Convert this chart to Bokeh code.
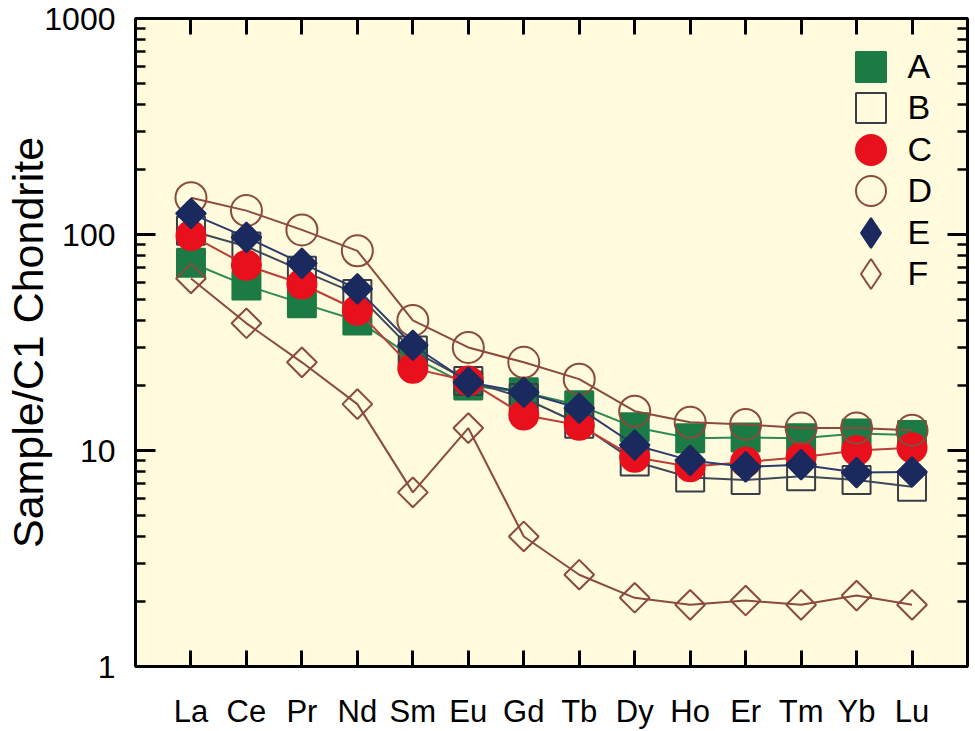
import math
from bokeh.plotting import figure
from bokeh.models import (FixedTicker, LinearAxis, LogAxis, NumeralTickFormatter,
                          Legend, LegendItem, ColumnDataSource, Range1d)
from bokeh.embed import file_html
from bokeh.resources import INLINE

# ---------------- data ----------------
elements = ["La", "Ce", "Pr", "Nd", "Sm", "Eu", "Gd", "Tb", "Dy", "Ho", "Er", "Tm", "Yb", "Lu"]
series_names = ["A", "B", "C", "D", "E", "F"]
values_A = [74, 58, 48, 40, 27, 20, 18.6, 16.2, 12.8, 11.4, 11.5, 11.4, 12.0, 11.8]
values_B = [104, 88, 68, 53, 29, 21, 17.5, 13.3, 8.9, 7.5, 7.3, 7.6, 7.3, 6.8]
values_C = [99, 72, 59, 44.6, 24, 21, 14.6, 13.1, 9.3, 8.4, 8.85, 9.3, 10.0, 10.3]
values_D = [148, 129, 105, 84, 40, 30, 25.6, 21.4, 15.2, 13.5, 13.2, 12.7, 12.7, 12.4]
values_E = [125, 97, 73.5, 56, 30.7, 20.7, 18.6, 15.7, 10.6, 9.0, 8.4, 8.6, 7.9, 7.95]
values_F = [62.6, 38.8, 25.6, 16.4, 6.4, 12.7, 4.0, 2.66, 2.08, 1.93, 2.02, 1.93, 2.13, 1.93]
y_ticks = [1, 10, 100, 1000]

FONT = "Liberation Sans"

p = figure(width=971, height=731, y_axis_type="log",
           x_range=Range1d(-1, len(elements)), y_range=Range1d(1, 1000),
           output_backend="svg", toolbar_location=None,
           min_border_left=135, min_border_right=4, min_border_top=18, min_border_bottom=64)

p.background_fill_color = "#FFFBDC"
p.border_fill_color = "white"
p.outline_line_color = "black"
p.outline_line_width = 3
p.xgrid.grid_line_color = None
p.ygrid.grid_line_color = None

x_idx = list(range(len(elements)))
minor = [m * d for d in y_ticks[:-1] for m in range(2, 10)]
yticker = FixedTicker(ticks=y_ticks, minor_ticks=minor)
xticker = FixedTicker(ticks=x_idx)

def style_axis(ax, major_in, minor_in):
    ax.level = "overlay"
    ax.axis_line_color = None
    ax.major_tick_in = major_in
    ax.major_tick_out = 0
    ax.minor_tick_in = minor_in
    ax.minor_tick_out = 0
    ax.major_tick_line_width = 3
    ax.minor_tick_line_width = 2.5
    ax.major_tick_line_color = "black"
    ax.minor_tick_line_color = "black"

# bottom x axis
xa = p.xaxis[0]
xa.ticker = xticker
xa.major_label_overrides = {i: e for i, e in enumerate(elements)}
style_axis(xa, 16, 0)
xa.major_label_text_font = FONT
xa.major_label_text_font_size = "31px"
xa.major_label_text_color = "black"
xa.major_label_standoff = 27

# left y axis
ya = p.yaxis[0]
ya.ticker = yticker
ya.formatter = NumeralTickFormatter(format="0")
style_axis(ya, 20, 10)
ya.major_label_text_font = FONT
ya.major_label_text_font_size = "32px"
ya.major_label_text_color = "black"
ya.major_label_standoff = 20
ya.axis_label = "Sample/C1 Chondrite"
ya.axis_label_text_font = FONT
ya.axis_label_text_font_size = "43px"
ya.axis_label_text_font_style = "normal"
ya.axis_label_text_color = "black"
ya.axis_label_standoff = -11

# top and right axes (ticks only)
top = LinearAxis(ticker=xticker)
style_axis(top, 16, 0)
top.major_label_text_font_size = "0px"
top.major_label_text_color = None
top.major_label_standoff = 0
p.add_layout(top, "above")

right = LogAxis(ticker=yticker)
style_axis(right, 20, 10)
right.major_label_text_font_size = "0px"
right.major_label_text_color = None
right.major_label_standoff = 0
p.add_layout(right, "right")

# ---------------- series ----------------
styles = {
    "A": dict(marker="square", size=28, fill_color="#1C7A45", line_color="#1C7A45", line="#2E8A55", angle=0),
    "B": dict(marker="square", size=28, fill_color=None, line_color="#3A3D48", line="#3E4A5C", angle=0),
    "C": dict(marker="circle", size=29, fill_color="#E8101C", line_color="#E8101C", line="#B8403A", angle=0),
    "D": dict(marker="circle", size=31, fill_color=None, line_color="#8A4B3A", line="#8A4B3A", angle=0),
    "E": dict(marker="square", size=21, fill_color="#1B2A5E", line_color="#1B2A5E", line="#2B3C6C", angle=math.pi / 4),
    "F": dict(marker="square", size=21, fill_color=None, line_color="#8A4B3A", line="#8A4B3A", angle=math.pi / 4),
}
all_values = {"A": values_A, "B": values_B, "C": values_C, "D": values_D, "E": values_E, "F": values_F}

# legend layout (screen pixels relative to the plot frame)
LEG_CENTER_X = 735
LEG_CENTER_Y_FROM_BOTTOM = 600
LEG_STEP = 41.5
GSIZE = 75

for i, name in enumerate(series_names):
    st = styles[name]
    src = ColumnDataSource(dict(x=x_idx, y=all_values[name]))
    p.line("x", "y", source=src, line_color=st["line"], line_width=2)
    r = p.scatter("x", "y", source=src, marker=st["marker"], size=st["size"],
                  angle=st["angle"], fill_color=st["fill_color"],
                  line_color=st["line_color"], line_width=2)
    if st["angle"]:
        # legend proxy: diamond marker (legend glyphs ignore rotation)
        r = p.scatter(x=[float("nan")], y=[float("nan")], marker="diamond",
                      fill_color=st["fill_color"], line_color=st["line_color"], line_width=2)
    leg = Legend(items=[LegendItem(label=name, renderers=[r])],
                 location=(LEG_CENTER_X - GSIZE / 2,
                           LEG_CENTER_Y_FROM_BOTTOM - LEG_STEP * i - GSIZE / 2),
                 glyph_width=GSIZE, glyph_height=GSIZE, spacing=0, padding=0, margin=0,
                 label_standoff=0, label_text_font=FONT, label_text_font_size="34px",
                 label_text_color="black", border_line_color=None,
                 background_fill_alpha=0)
    p.add_layout(leg)

open("out.html", "w").write(file_html(p, INLINE))
